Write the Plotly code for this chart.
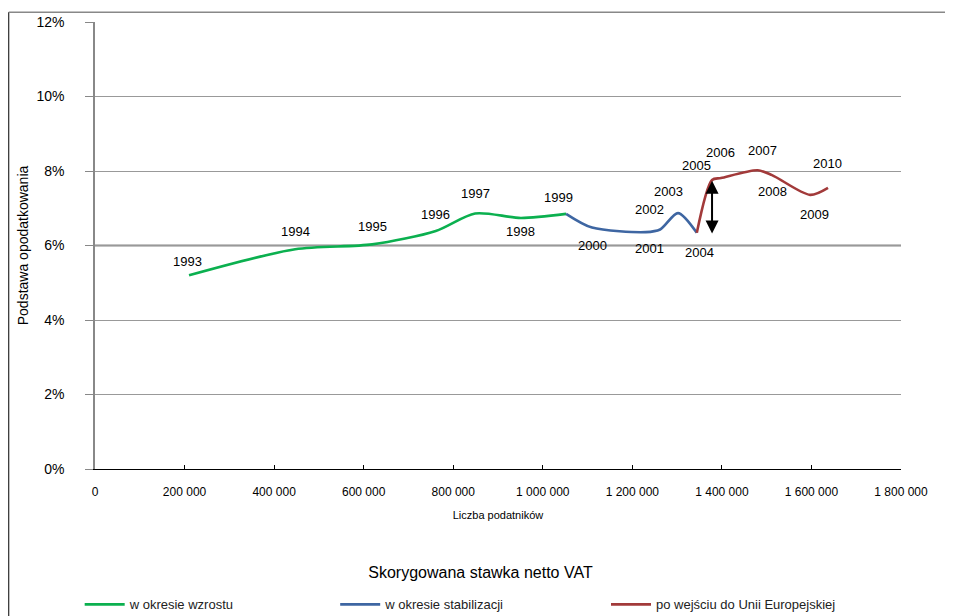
import plotly.graph_objects as go

years = [1993, 1994, 1995, 1996, 1997, 1998, 1999, 2000, 2001, 2002,
         2003, 2004, 2005, 2006, 2007, 2008, 2009, 2010]
taxpayers = [210000, 447000, 619000, 761000, 849000, 951000, 1052000, 1110000,
             1230000, 1262000, 1302000, 1344000, 1378000, 1398000, 1480000,
             1512000, 1597000, 1637000]
rate = [0.0520, 0.0590, 0.0603, 0.0639, 0.0686, 0.0674, 0.0685, 0.0648,
        0.0636, 0.0643, 0.0687, 0.0634, 0.0776, 0.0781, 0.0802, 0.0789,
        0.0736, 0.0755]

# label placement: (position, xshift)
label_pos = ["top", "top", "top", "top", "top", "bottom", "top", "bottom",
             "bottom", "top", "top", "bottom", "top", "top", "top", "bottom",
             "bottom", "top"]
label_dx = [-2, 0, 0, 0, 0, 0, -8, 0, 4, -11, -10, 3, -16, 0, 5, 0, 4, -1]
label_dy = [14, 18, 18, 16, 20, 14, 16, 18, 16, 20, 22, 20, 14, 26, 20, 16, 20, 24]

series_names = ["w okresie wzrostu", "w okresie stabilizacji",
                "po wejściu do Unii Europejskiej"]
series_ranges = [(0, 7), (6, 12), (11, 18)]
series_colors = ["#0BB04F", "#3E66A2", "#A23A3A"]

x_ticks = [0, 200000, 400000, 600000, 800000, 1000000, 1200000, 1400000,
           1600000, 1800000]
y_ticks = [0, 0.02, 0.04, 0.06, 0.08, 0.10, 0.12]

FONT = "Liberation Sans Narrow, Liberation Sans, Arial, sans-serif"

fig = go.Figure()
legend_ids = ["legend", "legend2", "legend3"]
for name, (a, b), col, lg in zip(series_names, series_ranges, series_colors, legend_ids):
    fig.add_trace(go.Scatter(
        x=taxpayers[a:b], y=rate[a:b], mode="lines", name=name,
        line=dict(color=col, width=2.6, shape="spline", smoothing=0.8),
        legend=lg, hoverinfo="skip"))

for yr, xv, yv, pos, dx, dy in zip(years, taxpayers, rate, label_pos, label_dx, label_dy):
    fig.add_annotation(x=xv, y=yv, text=str(yr), showarrow=False,
                       xshift=dx, yshift=dy if pos == "top" else -dy,
                       font=dict(family=FONT, size=13, color="#000000"))

# double-headed arrow between 2004 and 2005 level
i04, i05 = years.index(2004), years.index(2005)
fig.add_annotation(x=taxpayers[i05], y=rate[i04] - 0.0002, ax=taxpayers[i05],
                   ay=rate[i05] + 0.0002, axref="x", ayref="y", xref="x", yref="y",
                   showarrow=True, arrowhead=2, arrowside="end+start",
                   arrowsize=1.3, arrowwidth=2, arrowcolor="#000000", text="")

# emphasised 6% gridline
fig.add_shape(type="line", xref="paper", x0=0, x1=1, yref="y", y0=0.06, y1=0.06,
              line=dict(color="#888888", width=2), layer="below")

# outer frame (left and top)
fig.add_shape(type="line", xref="paper", yref="paper", x0=-0.107, x1=-0.107,
              y0=1.022, y1=-0.33, line=dict(color="#000000", width=1))
fig.add_shape(type="line", xref="paper", yref="paper", x0=-0.107, x1=1.07,
              y0=1.022, y1=1.022, line=dict(color="#888888", width=1.5))

legend_x = [-0.019, 0.298, 0.634]
legends = {}
for lg, lx in zip(legend_ids, legend_x):
    legends[lg] = dict(x=lx, y=-0.303, xanchor="left", yanchor="middle",
                       orientation="h", bgcolor="rgba(0,0,0,0)",
                       font=dict(family=FONT, size=13, color="#222222"),
                       itemwidth=40, tracegroupgap=0)

fig.update_layout(
    width=945, height=608,
    margin=dict(l=87, r=52, t=14, b=147, autoexpand=False),
    paper_bgcolor="white", plot_bgcolor="white",
    separators=", ",
    font=dict(family=FONT, color="#000000"),
    title=dict(text="Skorygowana stawka netto VAT", x=0.5, y=1 - 564 / 608,
               xanchor="center", yanchor="middle", xref="container", yref="container",
               font=dict(family=FONT, size=16, color="#000000")),
    xaxis=dict(range=[0, 1800000], tickvals=x_ticks, tickformat=",d",
               showgrid=False, zeroline=False, showline=True, automargin=False,
               linecolor="#000000", linewidth=1, ticks="inside", ticklen=4,
               tickcolor="#000000", tickfont=dict(family=FONT, size=12),
               ticklabelstandoff=12,
               title=dict(text="Liczba podatników", standoff=12,
                          font=dict(family=FONT, size=11))),
    yaxis=dict(range=[0, 0.12], tickvals=y_ticks, tickformat=".0%",
               showgrid=True, gridcolor="#999999", gridwidth=1, zeroline=False,
               showline=True, linecolor="#888888", linewidth=1.5, automargin=False,
               ticks="outside", ticklen=8, tickcolor="#888888",
               tickfont=dict(family=FONT, size=14), ticklabelstandoff=18,
               title=dict(text="Podstawa opodatkowania", standoff=5,
                          font=dict(family=FONT, size=14))),
    showlegend=True,
    **legends,
)

fig.write_html("out.html")
